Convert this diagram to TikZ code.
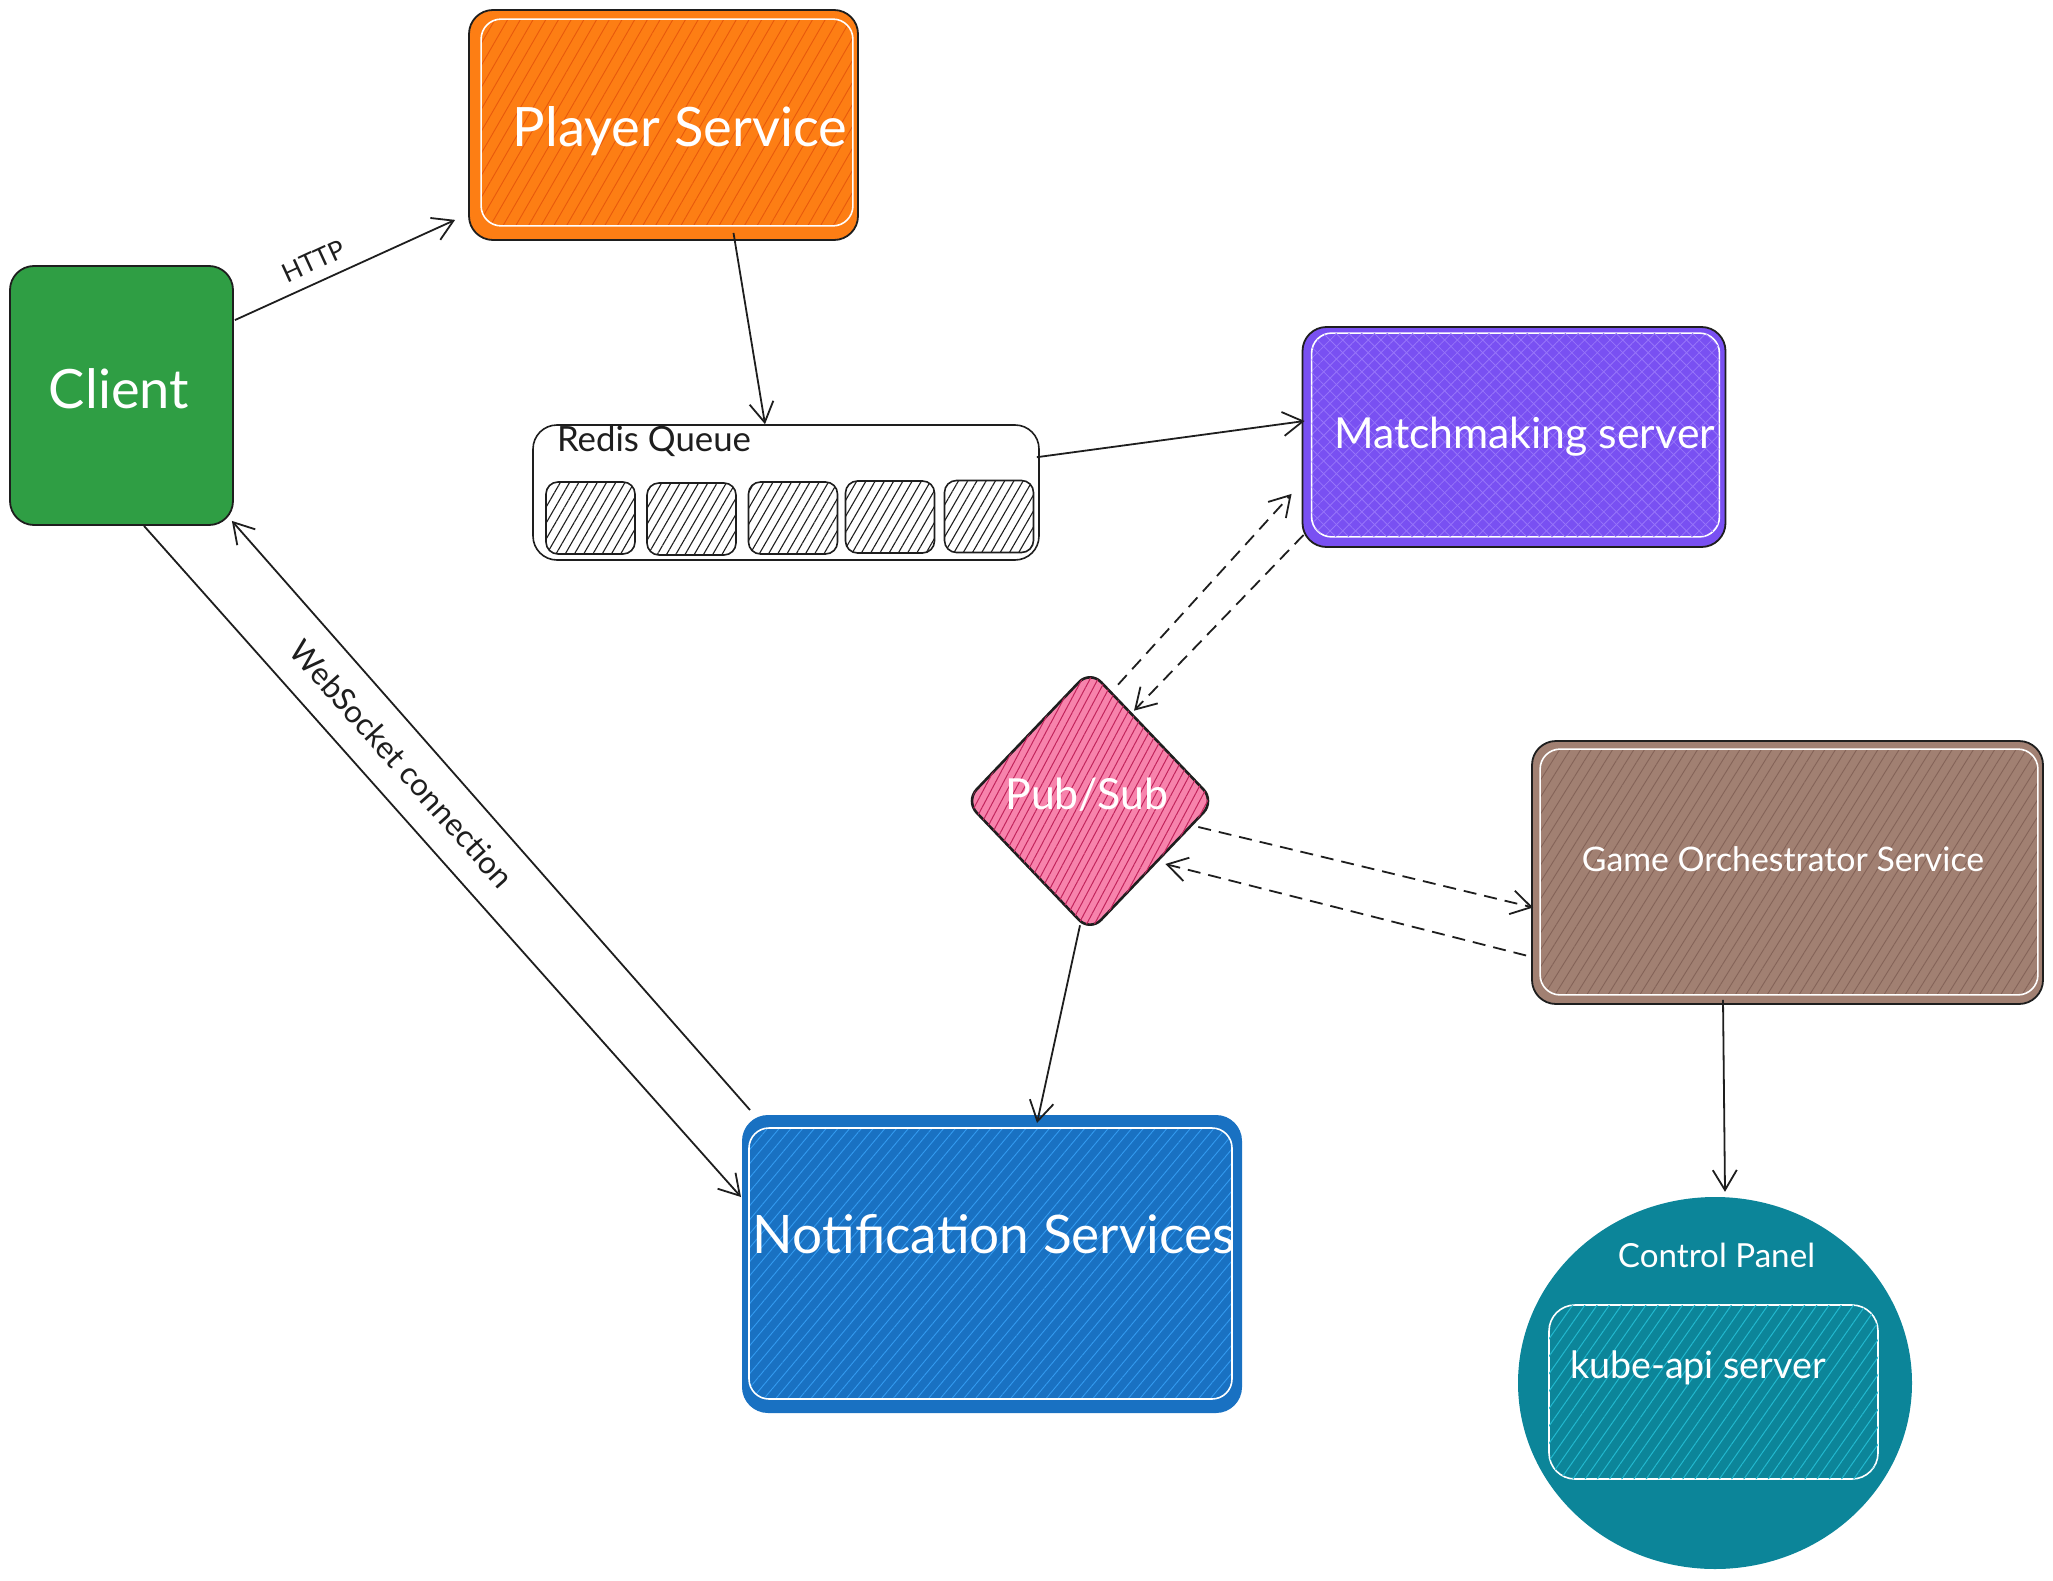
\documentclass[tikz,border=0pt]{standalone}
\usepackage{fontspec}
\setmainfont{Lato}
\usetikzlibrary{arrows.meta,shapes.geometric,patterns.meta,calc}
\definecolor{ink}{HTML}{1E1E1E}
\definecolor{cgreen}{HTML}{2F9E44}
\definecolor{corange}{HTML}{FD7E14}
\definecolor{horange}{HTML}{E8590C}
\definecolor{cpurple}{HTML}{7950F2}
\definecolor{hpurple}{HTML}{9775FA}
\definecolor{cpink}{HTML}{F783AC}
\definecolor{hpink}{HTML}{C2255C}
\definecolor{cbrown}{HTML}{A18072}
\definecolor{hbrown}{HTML}{846358}
\definecolor{cblue}{HTML}{1971C2}
\definecolor{hblue}{HTML}{339AF0}
\definecolor{cteal}{HTML}{0C8599}
\definecolor{hteal}{HTML}{22B8CF}
\newcommand{\fw}[2]{\resizebox{#1pt}{!}{#2}}
\tikzset{
  box/.style={rectangle, rounded corners=24pt, inner sep=0pt, draw=ink, line width=1.8pt},
  hatch/.style n args={4}{pattern={Lines[angle=#1,distance=#2,line width=#3]}, pattern color=#4},
  innerbox/.style={draw=white, line width=1.6pt, rounded corners=20pt},
  arr/.style={draw=ink, line width=1.8pt, -{Straight Barb[length=20pt,width=24pt,line width=1.8pt]}},
  darr/.style={arr, dash pattern=on 13pt off 8pt},
  wtxt/.style={text=white, inner sep=0pt, anchor=base},
  btxt/.style={text=ink, inner sep=0pt, anchor=base},
}
\begin{document}
\begin{tikzpicture}[x=1pt,y=-1pt]
\useasboundingbox (0,0) rectangle (2053,1581);

% main shapes
\node[box, fill=cgreen, minimum width=223pt, minimum height=259pt] (client) at (121.5,395.5) {};
\node[box, fill=corange, minimum width=389pt, minimum height=230pt] (player) at (663.5,125) {};
\node[box, fill=white, line width=1.6pt, minimum width=506pt, minimum height=135pt] (redis) at (786,492.5) {};
\foreach \n/\x/\y in {q1/590.5/518, q2/691.5/519, q3/793/518, q4/890/517, q5/989/516.5}{
  \node[box, rounded corners=12pt, line width=1.6pt, fill=white, minimum width=89pt, minimum height=72pt,
        postaction={hatch={60}{8pt}{1.1pt}{ink}}] (\n) at (\x,\y) {};
}
\node[box, fill=cpurple, minimum width=423pt, minimum height=220pt] (match) at (1514,437) {};
\node[diamond, draw=ink, line width=2.6pt, fill=cpink, rounded corners=16pt, inner sep=0pt,
      minimum width=250pt, minimum height=262pt, postaction={hatch={62}{7pt}{1pt}{hpink}}] (pubsub) at (1090,801) {};
\node[box, fill=cbrown, minimum width=511pt, minimum height=263pt] (game) at (1787.5,872.5) {};
\node[box, draw=cblue, line width=4pt, fill=cblue, minimum width=496pt, minimum height=294pt] (notif) at (992,1264) {};
\node[ellipse, fill=cteal, inner sep=0pt, minimum width=394pt, minimum height=372pt] (ctrl) at (1715,1383) {};
\node[box, draw=white, line width=1.6pt, rounded corners=26pt, minimum width=329pt, minimum height=174pt,
      postaction={hatch={55}{10pt}{1pt}{hteal}}] (kube) at (1713.5,1392) {};

% inner white outlines with hatching
\draw[innerbox, hatch={60}{11pt}{0.9pt}{horange}]
  ([shift={(13,10)}]player.north west) rectangle ([shift={(-6,-15)}]player.south east);
\draw[innerbox, hatch={45}{9pt}{0.8pt}{hpurple}]
  ([shift={(10,7)}]match.north west) rectangle ([shift={(-7,-11)}]match.south east);
\path[hatch={-45}{9pt}{0.8pt}{hpurple}, rounded corners=20pt]
  ([shift={(10,7)}]match.north west) rectangle ([shift={(-7,-11)}]match.south east);
\draw[innerbox, hatch={58}{9pt}{0.9pt}{hbrown}]
  ([shift={(9,9)}]game.north west) rectangle ([shift={(-6,-10)}]game.south east);
\draw[innerbox, hatch={50}{9pt}{0.9pt}{hblue}]
  ([shift={(7,13)}]notif.north west) rectangle ([shift={(-10,-14)}]notif.south east);

% connectors
\draw[arr] ([shift={(1,55)}]client.north east) -- ([shift={(-13,-21)}]player.south west);
\draw[arr] ([shift={(70,-8)}]player.south) -- ([shift={(-21,0)}]redis.north);
\draw[arr] ([shift={(-3,33)}]redis.north east) -- ([shift={(3,-16)}]match.west);
\draw[darr] ([shift={(28,16)}]pubsub.north) -- ([shift={(-10,-54)}]match.south west);
\draw[darr] ([shift={(2,-13)}]match.south west) -- ([shift={(44,42)}]pubsub.north);
\draw[darr] ([shift={(-18,26)}]pubsub.east) -- ([shift={(2,35)}]game.west);
\draw[darr] ([shift={(-5,83)}]game.west) -- ([shift={(-51,63)}]pubsub.east);
\draw[arr] ([shift={(-10,-8)}]pubsub.south) -- ([shift={(45,8)}]notif.north);
\draw[arr] ([shift={(-64.5,-5)}]game.south) -- ([shift={(10,-5)}]ctrl.north);
\draw[arr] ([shift={(22.5,0)}]client.south) -- ([shift={(-1,-67)}]notif.west);
\draw[arr] ([shift={(8,-5)}]notif.north west) -- ([shift={(-2,-5)}]client.south east);

% texts
\node[wtxt] (clientT) at (119,408) {\fw{140}{Client}};
\node[wtxt] (playerT) at (680,147) {\fw{334}{Player Service}};
\node[btxt] (redisT) at (654,451) {\fw{194}{Redis Queue}};
\node[wtxt] (matchT) at (1524.5,448) {\fw{381}{Matchmaking server}};
\node[wtxt] (pubsubT) at (1087,809) {\fw{163}{Pub/Sub}};
\node[wtxt] (gameT) at (1783,871) {\fw{402}{Game Orchestrator Service}};
\node[wtxt] (notifT) at (994,1253) {\fw{482}{Notification Services}};
\node[wtxt] (ctrlT) at (1716.5,1267) {\fw{197}{Control Panel}};
\node[wtxt] (kubeT) at (1698,1378) {\fw{256}{kube-api server}};
\node[btxt, anchor=center, rotate=24.7] (httpT) at (314,261) {\fw{66}{HTTP}};
\node[btxt, anchor=center, rotate=-48.3] (wsT) at (402,764) {\fw{318}{WebSocket connection}};
\end{tikzpicture}
\end{document}
